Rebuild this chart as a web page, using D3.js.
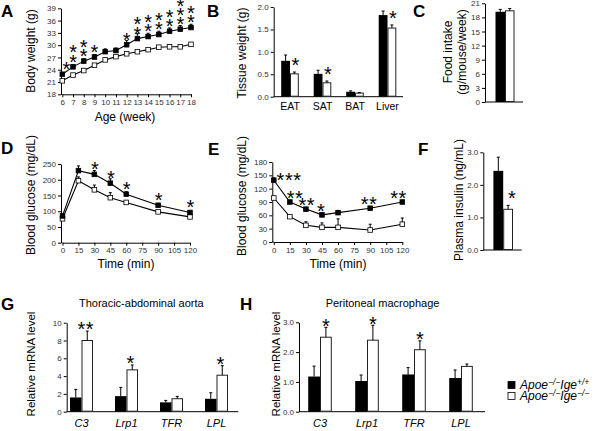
<!DOCTYPE html>
<html><head><meta charset="utf-8">
<script src="https://cdn.jsdelivr.net/npm/d3@7"></script>
<style>
body{margin:0;background:#fff}
svg{display:block;font-family:"Liberation Sans",Arial,sans-serif}
</style></head><body>
<svg id="c" width="600" height="431"></svg>
<script>
// ---------- DATA ----------
const weeks = [6,7,8,9,10,11,12,13,14,15,16,17,18];
const bwBlack = [22.9,24.7,26.1,27.1,28.4,28.7,30.1,31.6,32.1,32.6,33.4,33.9,34.3];
const bwBlackErr = [0.4,0.5,0.6,0.6,0.7,0.6,1.0,1.2,0.8,0.8,0.8,0.9,0.8];
const bwWhite = [21.3,22.7,23.8,25.1,26.4,27.2,27.9,28.4,28.9,29.5,29.6,29.6,30.2];
const bwWhiteErr = [0.3,0.3,0.3,0.4,0.4,0.4,0.4,0.3,0.4,0.3,0.4,0.4,0.4];
const bwSig = [1,2,2,1,0,0,1,2,2,2,2,3,2];
const bwTicks = [18,21,24,27,30,33,36,39];

const tissues = ["EAT","SAT","BAT","Liver"];
const tissueBlack = [0.80,0.51,0.11,1.82];
const tissueBlackErr = [0.13,0.08,0.02,0.09];
const tissueWhite = [0.51,0.31,0.08,1.53];
const tissueWhiteErr = [0.04,0.04,0.01,0.07];
const tissueSig = [1,1,0,1];
const tissueTicks = [0,0.5,1,1.5,2];

const foodBlack = 19.2, foodBlackErr = 0.5;
const foodWhite = 19.4, foodWhiteErr = 0.5;
const foodTicks = [0,3,6,9,12,15,18,21];

const times = [0,15,30,45,60,90,120];
const timeTicks = [0,15,30,45,60,75,90,105,120];
const gttBlack = [85,229,217,189,154,119,96];
const gttBlackErr = [5,15,12,14,8,5,5];
const gttWhite = [76,197,168,143,128,98,82];
const gttWhiteErr = [4,12,15,16,6,4,4];
const gttSig = [0,0,1,1,1,1,1];
const gttTicks = [0,50,100,150,200,250];

const ittBlack = [139,90,74,61,66,76,90];
const ittBlackErr = [5,3,3,3,5,4,3];
const ittWhite = [99,57,37.5,33,33,27,40];
const ittWhiteErr = [3,3,8,10,19,13,14];
const ittSig = [3,2,2,1,0,2,2];
const ittTicks = [0,30,60,90,120,150,180];

const insBlack = 2.43, insBlackErr = 0.42;
const insWhite = 1.25, insWhiteErr = 0.12;
const insSig = 1;
const insTicks = [0,1,2,3];

const genes = ["C3","Lrp1","TFR","LPL"];
const aortaBlack = [1.6,1.75,1.05,1.45];
const aortaBlackErr = [0.9,0.98,0.22,0.68];
const aortaWhite = [8.0,4.7,1.46,4.1];
const aortaWhiteErr = [1.06,0.55,0.26,1.07];
const aortaSig = [2,1,0,1];
const aortaTicks = [0,2,4,6,8,10];

const macroBlack = [1.18,1.03,1.25,1.13];
const macroBlackErr = [0.35,0.2,0.23,0.27];
const macroWhite = [2.5,2.4,2.08,1.52];
const macroWhiteErr = [0.33,0.5,0.3,0.08];
const macroSig = [1,1,1,0];
const macroTicks = [0,1,2,3];

// ---------- HELPERS ----------
const svg = d3.select("#c");
const FF = '"Liberation Sans",Arial,sans-serif';

function styleAxis(ax){
  ax.attr("font-family",FF).attr("font-size",8);
  ax.selectAll("text").attr("fill","#333");
  ax.select(".domain").attr("stroke","#000");
  ax.selectAll(".tick line").attr("stroke","#000");
}
function yAxis(scale,x,ticks,fmt){
  const a=d3.axisLeft(scale).tickValues(ticks).tickSize(3).tickPadding(2).tickSizeOuter(0);
  if(fmt) a.tickFormat(fmt);
  const ax=svg.append("g").attr("transform",`translate(${x},0)`).call(a);
  styleAxis(ax);
}
function xAxisLin(scale,y,ticks){
  const a=d3.axisBottom(scale).tickValues(ticks).tickSize(3).tickPadding(2).tickSizeOuter(0);
  const ax=svg.append("g").attr("transform",`translate(0,${y})`).call(a);
  styleAxis(ax);
}
function hLine(x1,x2,y){
  svg.append("line").attr("x1",x1).attr("x2",x2).attr("y1",y).attr("y2",y).attr("stroke","#000");
}
function letter(t,x,y){
  svg.append("text").attr("x",x).attr("y",y).attr("font-size",17).attr("font-weight","bold").text(t);
}
function ylabel(t,cx,cy,size){
  svg.append("text").attr("transform",`translate(${cx},${cy}) rotate(-90)`)
    .attr("text-anchor","middle").attr("dy","0.35em").attr("font-size",size||12).text(t);
}
function text(t,x,y,size,opts){
  const e=svg.append("text").attr("x",x).attr("y",y).attr("text-anchor","middle").attr("font-size",size).text(t);
  if(opts&&opts.italic) e.attr("font-style","italic");
  return e;
}
const STAR=20;
function stars(cx,cy,n,dir){ // cy = centre of lowest (or the row) star
  for(let i=0;i<n;i++){
    let x=cx,y=cy;
    if(dir==="v"){ y=cy-i*9.3; }
    else { x=cx+(i-(n-1)/2)*8.3; }
    svg.append("text").attr("x",x).attr("y",y+0.57*STAR).attr("text-anchor","middle")
      .attr("font-size",STAR).text("*");
  }
}
function errBar(x,y1,y2,cap){
  const g=svg.append("g").attr("stroke","#000").attr("stroke-width",1);
  g.append("line").attr("x1",x).attr("x2",x).attr("y1",y1).attr("y2",y2);
  g.append("line").attr("x1",x-cap).attr("x2",x+cap).attr("y1",y2).attr("y2",y2);
}
function series(x,y,xs,vals,errs,fill){
  const pts=xs.map((d,i)=>[x(d),y(vals[i]),y(vals[i]+errs[i])]);
  pts.forEach(p=>errBar(p[0],p[1],p[2],1.5));
  svg.append("path").attr("d",d3.line()(pts.map(p=>[p[0],p[1]]))).attr("fill","none").attr("stroke","#000").attr("stroke-width",1.1);
  svg.append("g").selectAll("rect").data(pts).join("rect")
    .attr("x",p=>p[0]-2.3).attr("y",p=>p[1]-2.3).attr("width",4.6).attr("height",4.6)
    .attr("fill",fill).attr("stroke","#000").attr("stroke-width",0.8);
}
function bars(cx,y,vB,eB,vW,eW,bw){
  const y0=y(0);
  svg.append("rect").attr("x",cx-bw).attr("y",y(vB)).attr("width",bw).attr("height",y0-y(vB)).attr("fill","#000");
  svg.append("rect").attr("x",cx+0.5).attr("y",y(vW)).attr("width",bw-1).attr("height",y0-y(vW)-0.5)
    .attr("fill","#fff").attr("stroke","#222").attr("stroke-width",1);
  errBar(cx-bw/2,y(vB),y(vB+eB),1.5);
  errBar(cx+bw/2,y(vW),y(vW+eW),1.5);
}

// ---------- PANEL A ----------
{
  const x=d3.scaleLinear().domain([6,18]).range([62.3,191]);
  const y=d3.scaleLinear().domain([18,39]).range([94.3,8.3]);
  yAxis(y,61,bwTicks);
  xAxisLin(x,94.3,weeks);
  hLine(61,62.3,94.3);
  series(x,y,weeks,bwWhite,bwWhiteErr,"#fff");
  series(x,y,weeks,bwBlack,bwBlackErr,"#000");
  weeks.forEach((w,i)=>{ if(bwSig[i]) stars(x(w)+(i===0?4:0), y(bwBlack[i])-9.5, bwSig[i],"v"); });
  letter("A",1,17);
  ylabel("Body weight (g)",31,51);
  text("Age (week)",125,121,12);
}
// ---------- PANEL B ----------
{
  const y=d3.scaleLinear().domain([0,2]).range([96.7,7]);
  const x=d3.scalePoint().domain(tissues).range([290,387.5]);
  yAxis(y,273.7,tissueTicks,d3.format(".1f"));
  hLine(273.7,403,96.7);
  tissues.forEach((t,i)=>{
    bars(x(t),y,tissueBlack[i],tissueBlackErr[i],tissueWhite[i],tissueWhiteErr[i],8.8);
    if(tissueSig[i]) stars(x(t)+5.5, y(tissueWhite[i]+tissueWhiteErr[i])-11, tissueSig[i],"h");
    text(t,x(t),110,10.5);
  });
  letter("B",207,17);
  ylabel("Tissue weight (g)",241.7,53);
}
// ---------- PANEL C ----------
{
  const y=d3.scaleLinear().domain([0,21]).range([102,3.3]);
  yAxis(y,485,foodTicks);
  hLine(485,523,102);
  bars(505,y,foodBlack,foodBlackErr,foodWhite,foodWhiteErr,9.5);
  letter("C",413,17);
  ylabel("Food intake",448,52);
  ylabel("(g/mouse/week)",461.7,52);
}
// ---------- PANEL D ----------
{
  const x=d3.scaleLinear().domain([0,120]).range([62.5,190]);
  const y=d3.scaleLinear().domain([0,250]).range([242.7,164]);
  yAxis(y,61,gttTicks);
  xAxisLin(x,242.7,timeTicks);
  hLine(61,62.5,242.7);
  series(x,y,times,gttWhite,gttWhiteErr,"#fff");
  series(x,y,times,gttBlack,gttBlackErr,"#000");
  times.forEach((t,i)=>{ if(gttSig[i]) stars(x(t)+0.5, y(gttBlack[i])-9.5, gttSig[i],"v"); });
  letter("D",1,154);
  ylabel("Blood glucose (mg/dL)",31,195);
  text("Time (min)",126,268,12);
}
// ---------- PANEL E ----------
{
  const x=d3.scaleLinear().domain([0,120]).range([273.8,402.3]);
  const y=d3.scaleLinear().domain([0,180]).range([242,162]);
  yAxis(y,272.3,ittTicks);
  xAxisLin(x,242,timeTicks);
  hLine(272.3,273.8,242);
  series(x,y,times,ittWhite,ittWhiteErr,"#fff");
  series(x,y,times,ittBlack,ittBlackErr,"#000");
  const dx=[15,5,0.5,-1,0,-1.5,-4];
  times.forEach((t,i)=>{ if(ittSig[i]) stars(x(t)+dx[i], y(ittBlack[i])-(i===0?5:8.5), ittSig[i],"h"); });
  letter("E",208,155);
  ylabel("Blood glucose (mg/dL)",241.7,196);
  text("Time (min)",338,268,12);
}
// ---------- PANEL F ----------
{
  const y=d3.scaleLinear().domain([0,3]).range([250,152.3]);
  yAxis(y,483.3,insTicks);
  hLine(483.3,521.7,250);
  bars(503.2,y,insBlack,insBlackErr,insWhite,insWhiteErr,9.8);
  stars(512,y(insWhite+insWhiteErr)-12,insSig,"h");
  letter("F",418,155);
  ylabel("Plasma insulin (ng/mL)",458.3,200);
}
// ---------- PANEL G ----------
{
  const y=d3.scaleLinear().domain([0,10]).range([411.7,322.7]);
  const x=d3.scalePoint().domain(genes).range([81.5,216.5]);
  yAxis(y,66.7,aortaTicks);
  hLine(66.7,238.3,411.7);
  genes.forEach((g,i)=>{
    bars(x(g),y,aortaBlack[i],aortaBlackErr[i],aortaWhite[i],aortaWhiteErr[i],11.5);
    if(aortaSig[i]) stars(x(g)+4, y(aortaWhite[i]+aortaWhiteErr[i])-6.5, aortaSig[i],"h");
    text(g,x(g),427,11,{italic:true});
  });
  letter("G",1,310);
  text("Thoracic-abdominal aorta",141.3,307,11);
  ylabel("Relative mRNA level",31,364,11.5);
}
// ---------- PANEL H ----------
{
  const y=d3.scaleLinear().domain([0,3]).range([411.7,322.3]);
  const x=d3.scalePoint().domain(genes).range([320,461]);
  yAxis(y,299,macroTicks);
  hLine(299,485,411.7);
  genes.forEach((g,i)=>{
    bars(x(g),y,macroBlack[i],macroBlackErr[i],macroWhite[i],macroWhiteErr[i],11.8);
    if(macroSig[i]) stars(x(g)+6, y(macroWhite[i]+macroWhiteErr[i])-6, macroSig[i],"h");
    text(g,x(g),427,11,{italic:true});
  });
  letter("H",240,310);
  text("Peritoneal macrophage",382.5,307,11);
  ylabel("Relative mRNA level",276,364,11.5);
}
// ---------- LEGEND ----------
{
  const rows=[{fill:"#000",sup:"+/+"},{fill:"#fff",sup:"\u2212/\u2212"}];
  rows.forEach((r,i)=>{
    const cy=385+i*11;
    svg.append("rect").attr("x",508).attr("y",cy-3.5).attr("width",7).attr("height",7)
      .attr("fill",r.fill).attr("stroke","#000").attr("stroke-width",0.8);
    const t=svg.append("text").attr("x",520).attr("y",cy+4).attr("font-size",12).attr("font-style","italic");
    t.append("tspan").text("Apoe");
    t.append("tspan").attr("font-size",8.5).attr("dy",-4).text("\u2212/\u2212");
    t.append("tspan").attr("dy",4).text("Ige");
    t.append("tspan").attr("font-size",8.5).attr("dy",-4).text(r.sup);
  });
}
</script>
</body></html>
